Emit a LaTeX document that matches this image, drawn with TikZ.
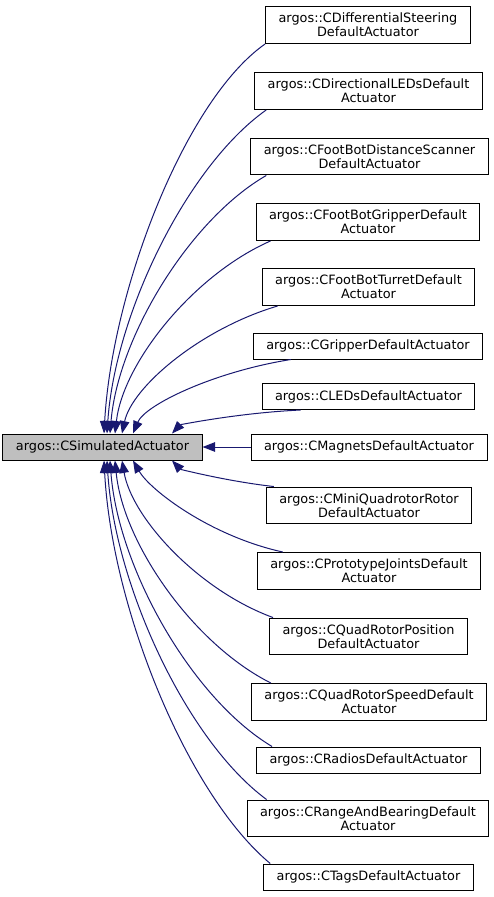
\documentclass[tikz,border=0pt]{standalone}
\usepackage{fontspec}
\setmainfont{DejaVu Sans}
\usetikzlibrary{arrows.meta}
\definecolor{midnight}{HTML}{191970}
\definecolor{basegray}{HTML}{BFBFBF}
\tikzset{
	cls/.style={draw=black, line width=1pt, fill=white, align=center,
		inner xsep=13pt, inner ysep=6.5pt, minimum height=26pt,
		font=\fontsize{12.85}{14}\selectfont},
	basecls/.style={cls, fill=basegray},
	inherit/.style={draw=midnight, line width=1pt,
		{Triangle[length=12.5pt,width=9.5pt,fill=midnight]}-}
}
\begin{document}
\begin{tikzpicture}[x=1pt,y=-1pt]

	% frame
	\useasboundingbox (0,0) rectangle (493,897);

	% base class
	\node[basecls] (sim) at (102.5,447) {argos::CSimulatedActuator};

	% derived classes
	\node[cls] (diff) at (368,25) {argos::CDifferentialSteering\\DefaultActuator};
	\node[cls] (dirleds) at (368.5,91) {argos::CDirectionalLEDsDefault\\Actuator};
	\node[cls] (fbdist) at (369.5,156.5) {argos::CFootBotDistanceScanner\\DefaultActuator};
	\node[cls] (fbgrip) at (368,222) {argos::CFootBotGripperDefault\\Actuator};
	\node[cls] (fbturret) at (368.5,287) {argos::CFootBotTurretDefault\\Actuator};
	\node[cls] (gripper) at (368,346) {argos::CGripperDefaultActuator};
	\node[cls] (leds) at (368.5,396.5) {argos::CLEDsDefaultActuator};
	\node[cls] (magnets) at (369,447) {argos::CMagnetsDefaultActuator};
	\node[cls] (miniquad) at (369,505.5) {argos::CMiniQuadrotorRotor\\DefaultActuator};
	\node[cls] (protojoints) at (369,571) {argos::CPrototypeJointsDefault\\Actuator};
	\node[cls] (qrpos) at (368.5,636.5) {argos::CQuadRotorPosition\\DefaultActuator};
	\node[cls] (qrspeed) at (369,702) {argos::CQuadRotorSpeedDefault\\Actuator};
	\node[cls] (radios) at (368.5,760) {argos::CRadiosDefaultActuator};
	\node[cls] (rab) at (368,818.5) {argos::CRangeAndBearingDefault\\Actuator};
	\node[cls] (tags) at (368.5,877) {argos::CTagsDefaultActuator};

	% edges above
	\draw[inherit] ([xshift=1.5pt]sim.north) .. controls (112,290) and (185,100) .. (diff.south west);
	\draw[inherit] ([xshift=4.5pt]sim.north) .. controls (115,314) and (187,166) .. ([xshift=12pt]dirleds.south west);
	\draw[inherit] ([xshift=7.5pt]sim.north) .. controls (118,338) and (189,220) .. ([xshift=16pt]fbdist.south west);
	\draw[inherit] ([xshift=12.5pt]sim.north) .. controls (123,363) and (193,275) .. ([xshift=15pt]fbgrip.south west);
	\draw[inherit] ([xshift=19.5pt]sim.north) .. controls (132,387) and (200,329) .. ([xshift=16pt]fbturret.south west);
	\draw[inherit] ([xshift=30.5pt]sim.north) .. controls (145,405) and (213,372) .. ([xshift=38pt]gripper.south west);
	\draw[inherit] ([xshift=69.5pt]sim.north) .. controls (180,425) and (237,413) .. ([xshift=39pt]leds.south west);

	% straight one
	\draw[inherit] (sim.east) -- (magnets.west);

	% edges below
	\draw[inherit] ([xshift=69.5pt]sim.south) .. controls (180,469) and (225,481) .. ([xshift=8pt]miniquad.north west);
	\draw[inherit] ([xshift=30.5pt]sim.south) .. controls (150,490) and (210,536) .. ([xshift=26pt]protojoints.north west);
	\draw[inherit] ([xshift=19.5pt]sim.south) .. controls (132,518) and (198,590) .. ([xshift=4pt]qrpos.north west);
	\draw[inherit] ([xshift=12.5pt]sim.south) .. controls (123,543) and (193,644) .. ([xshift=20pt]qrspeed.north west);
	\draw[inherit] ([xshift=7.5pt]sim.south) .. controls (118,567) and (191,698) .. ([xshift=16pt]radios.north west);
	\draw[inherit] ([xshift=4.5pt]sim.south) .. controls (115,586) and (187,741) .. ([xshift=20pt]rab.north west);
	\draw[inherit] ([xshift=1.5pt]sim.south) .. controls (112,610) and (188,795) .. ([xshift=7pt]tags.north west);

\end{tikzpicture}
\end{document}
